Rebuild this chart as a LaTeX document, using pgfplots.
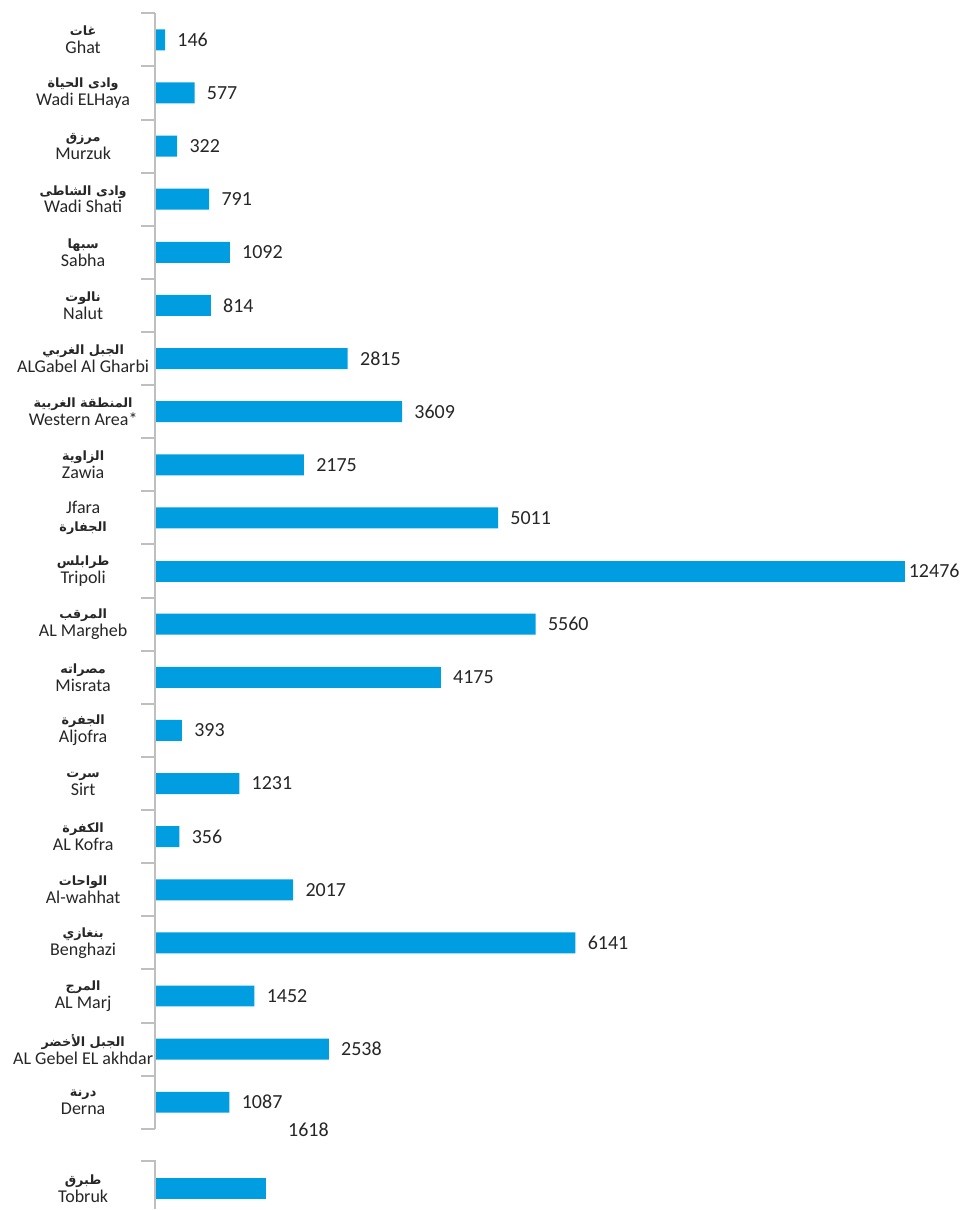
\documentclass[border=0pt]{standalone}
\usepackage{fontspec}
\setmainfont{Carlito}
\newfontfamily\arabicfont[Script=Arabic]{DejaVu Sans}
\TeXXeTstate=1
\usepackage{pgfplots}
\pgfplotsset{compat=1.18}
\definecolor{barblue}{RGB}{0,157,224}
\definecolor{axisgray}{RGB}{191,191,191}
\newcommand{\arf}{\arabicfont\bfseries\fontsize{6.4}{9}\selectfont}

\begin{document}
\begin{tikzpicture}
\begin{axis}[
  scale only axis, width=479pt, height=605pt,
  xmin=-2263, xmax=11723, ymin=-0.75, ymax=22.01, y dir=reverse,
  axis line style={draw=none}, xtick=\empty,
  ytick={0,1,...,20,21.62},
  yticklabels={
    {{\arf\beginR غات\endR}\\Ghat},
    {{\arf\beginR وادى الحياة\endR}\\Wadi ELHaya},
    {{\arf\beginR مرزق\endR}\\Murzuk},
    {{\arf\beginR وادى الشاطى\endR}\\Wadi Shati},
    {{\arf\beginR سبها\endR}\\Sabha},
    {{\arf\beginR نالوت\endR}\\Nalut},
    {{\arf\beginR الجبل الغربي\endR}\\ALGabel Al Gharbi},
    {{\arf\beginR المنطقة الغربية\endR}\\Western Area*},
    {{\arf\beginR الزاوية\endR}\\Zawia},
    {Jfara\\{\arf\beginR الجفارة\endR}},
    {{\arf\beginR طرابلس\endR}\\Tripoli},
    {{\arf\beginR المرقب\endR}\\AL Margheb},
    {{\arf\beginR مصراته\endR}\\Misrata},
    {{\arf\beginR الجفرة\endR}\\Aljofra},
    {{\arf\beginR سرت\endR}\\Sirt},
    {{\arf\beginR الكفرة\endR}\\AL Kofra},
    {{\arf\beginR الواحات\endR}\\Al-wahhat},
    {{\arf\beginR بنغازي\endR}\\Benghazi},
    {{\arf\beginR المرج\endR}\\AL Marj},
    {{\arf\beginR الجبل الأخضر\endR}\\AL Gebel EL akhdar},
    {{\arf\beginR درنة\endR}\\Derna},
    {{\arf\beginR طبرق\endR}\\Tobruk}},
  major tick length=0pt,
  yticklabel style={anchor=center, xshift=41.5pt, align=center,
    font=\fontsize{9}{9}\selectfont, text=black!85},
  xbar, bar width=10.5pt, bar shift=0pt,
  clip=false,
  nodes near coords, point meta=explicit symbolic,
  every node near coord/.append style={anchor=west, inner sep=0pt, xshift=6pt,
    font=\fontsize{10}{12}\selectfont, text=black!85},
]
\addplot[fill=barblue, draw=none] coordinates {
  (146,0) [146]
  (577,1) [577]
  (322,2) [322]
  (791,3) [791]
  (1092,4) [1092]
  (814,5) [814]
  (2815,6) [2815]
  (3609,7) [3609]
  (2175,8) [2175]
  (5011,9) [5011]
  (5560,11) [5560]
  (4175,12) [4175]
  (393,13) [393]
  (1231,14) [1231]
  (356,15) [356]
  (2017,16) [2017]
  (6141,17) [6141]
  (1452,18) [1452]
  (2538,19) [2538]
  (1087,20) [1087]
};
% Tripoli's bar is drawn shorter than its value, as in the source
\addplot[fill=barblue, draw=none,
  every node near coord/.append style={xshift=-4.5pt}] coordinates {
  (10964,10) [12476]
};
\addplot[fill=barblue, draw=none,
  every node near coord/.append style={xshift=5pt, yshift=29.5pt}] coordinates {
  (1618,21.62) [1618]
};
\draw[axisgray, line width=1pt] (axis cs:0,-0.5) -- (axis cs:0,20.5);
\pgfplotsinvokeforeach{-0.5,0.5,...,20.5}{
  \draw[axisgray, line width=1pt] (axis cs:0,#1) -- ([xshift=-7pt]axis cs:0,#1);
}
\draw[axisgray, line width=1pt] (axis cs:0,22.01) -- (axis cs:0,21.11)
  -- ([xshift=-7pt]axis cs:0,21.11);
\path (axis cs:-2263,-0.75) rectangle (axis cs:11723,22.01);
\end{axis}
\end{tikzpicture}
\end{document}
